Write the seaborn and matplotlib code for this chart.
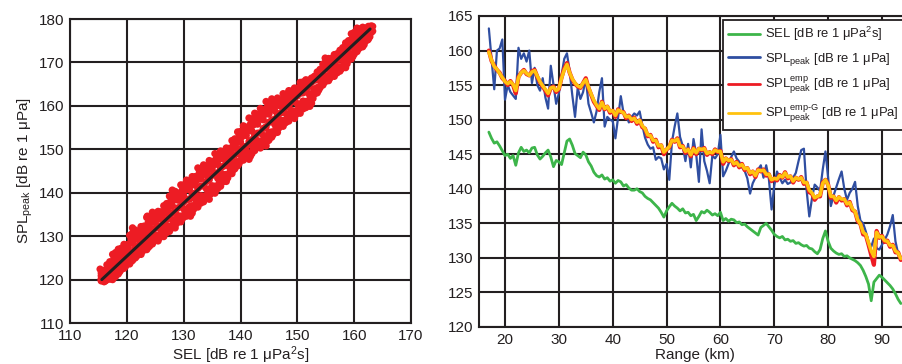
import numpy as np
import pandas as pd
import matplotlib
matplotlib.use("Agg")
import matplotlib.pyplot as plt
import seaborn as sns

# ---------------- data: left panel (scatter SEL vs SPL_peak) ----------------
scatter_sel = np.arange(115.5, 163.25, 0.5)       # sampled SEL columns (96)
scatter_sel_mid = np.arange(115.75, 163.5, 0.5)   # staggered SEL columns (96)
spl_hi = [121.5,122.1,123.4,124.1,125.8,126.2,127.0,127.2,128.1,128.0,
          130.2,130.7,131.4,131.0,132.2,132.3,134.3,134.3,135.5,134.9,
          135.7,135.6,137.0,137.5,139.2,139.5,140.3,139.9,141.8,141.8,
          142.9,142.7,143.7,143.7,145.7,145.4,146.4,146.2,147.4,147.2,
          149.0,148.8,149.6,149.4,150.3,150.2,152.0,152.4,154.0,154.1,
          155.4,155.1,157.2,157.0,158.3,158.1,159.4,159.1,161.0,160.6,
          161.6,161.2,161.8,161.4,162.8,162.7,163.5,163.4,164.1,164.1,
          165.4,165.5,166.0,165.9,166.4,166.8,167.8,168.4,169.6,170.2,
          170.9,170.9,171.8,172.0,172.8,173.4,174.5,175.0,176.6,176.9,
          177.9,177.7,178.1,177.9,178.3,178.4]
spl_uq = [121.2,121.7,123.0,123.6,125.0,125.3,126.3,126.5,127.4,127.3,
          129.3,129.6,130.4,130.1,131.5,131.6,133.1,133.1,134.6,134.1,
          134.9,134.8,136.2,136.6,138.1,138.3,139.4,139.1,140.6,140.6,
          141.9,141.7,142.8,142.8,144.6,144.3,145.4,145.2,146.6,146.4,
          147.9,147.7,148.8,148.6,149.5,149.5,151.1,151.4,152.9,152.9,
          154.5,154.2,155.8,155.6,157.2,157.0,158.2,158.0,159.8,159.4,
          160.4,160.1,161.0,160.7,161.9,161.8,162.8,162.8,163.5,163.6,
          164.8,164.9,165.5,165.5,166.2,166.6,167.5,168.0,169.2,169.7,
          170.5,170.5,171.4,171.7,172.5,173.0,174.1,174.6,175.9,176.1,
          177.3,177.2,177.7,177.6,178.1,178.3]
spl_mh = [120.9,121.2,122.5,123.0,124.1,124.3,125.5,125.7,126.6,126.6,
          128.3,128.5,129.4,129.2,130.7,130.8,131.9,131.9,133.6,133.2,
          134.1,134.0,135.4,135.6,137.0,137.0,138.5,138.3,139.4,139.3,
          140.9,140.7,141.8,141.8,143.4,143.2,144.3,144.1,145.7,145.6,
          146.7,146.5,147.9,147.8,148.7,148.7,150.2,150.4,151.7,151.7,
          153.5,153.2,154.4,154.2,156.0,155.8,157.0,156.8,158.5,158.1,
          159.2,158.9,160.2,160.0,160.9,160.9,162.1,162.1,162.9,163.0,
          164.1,164.3,165.0,165.1,165.9,166.3,167.1,167.5,168.8,169.2,
          170.0,170.1,171.0,171.3,172.1,172.5,173.7,174.1,175.1,175.3,
          176.6,176.6,177.2,177.3,177.9,178.2]
spl_c = [120.2,120.2,121.2,121.6,122.6,123.1,123.2,124.3,124.7,125.7,
         126.2,126.3,127.3,127.7,128.7,129.2,129.4,130.4,130.8,131.8,
         132.3,132.4,133.4,133.8,134.8,135.4,135.5,136.5,136.9,137.9,
         138.4,138.5,139.5,139.9,141.0,141.5,141.6,142.6,143.0,144.0,
         144.5,144.6,145.6,146.1,147.1,147.6,147.7,148.7,149.1,150.1,
         150.6,150.7,151.8,152.2,153.2,153.7,153.8,154.8,155.2,156.2,
         156.7,156.9,157.9,158.3,159.3,159.8,159.9,160.9,161.3,162.3,
         162.9,163.0,164.0,164.4,165.4,165.9,166.0,167.0,167.4,168.5,
         169.0,169.1,170.1,170.5,171.5,172.0,172.1,173.1,173.6,174.6,
         175.1,175.2,176.2,176.6,177.6,178.1]
spl_ml = [119.9,119.8,120.5,120.7,120.9,122.0,122.3,123.1,123.4,124.5,
          124.7,125.4,125.7,127.0,127.1,127.8,127.9,129.2,129.4,130.1,
          130.2,131.5,131.5,132.3,132.3,133.8,133.8,134.7,134.6,136.3,
          136.2,136.8,137.0,138.6,138.6,139.3,139.2,140.9,140.8,141.6,
          141.5,143.3,143.3,144.2,144.2,146.0,146.1,147.0,147.2,148.8,
          149.0,149.5,149.1,150.9,151.1,152.0,151.8,153.2,152.9,153.9,
          154.0,155.8,155.8,156.7,156.6,158.2,158.2,158.9,158.8,160.5,
          160.4,161.1,161.0,162.8,162.8,163.9,164.2,165.8,166.0,166.8,
          167.0,168.2,168.3,169.0,169.0,170.5,170.6,171.5,171.8,173.3,
          173.6,174.3,174.6,175.9,176.3,177.4]
spl_lq = [119.8,119.7,120.3,120.4,120.5,121.4,121.8,122.7,123.0,124.1,
          124.2,124.9,125.4,126.5,126.5,127.4,127.4,128.5,128.8,129.6,
          129.6,130.9,130.7,131.6,131.7,133.0,132.9,134.1,134.0,135.4,
          135.4,136.1,136.2,137.8,137.7,138.5,138.6,139.9,139.7,140.9,
          140.7,142.2,142.4,143.4,143.4,145.2,145.3,146.3,146.7,148.1,
          148.3,149.0,148.4,150.0,150.4,151.4,151.1,152.4,151.9,153.0,
          153.4,154.9,154.9,156.1,156.0,157.2,157.4,158.2,158.0,159.6,
          159.4,160.2,160.3,161.7,161.7,163.3,163.6,165.0,165.4,166.3,
          166.4,167.6,167.6,168.3,168.5,169.7,169.7,171.0,171.3,172.6,
          173.1,173.9,174.1,175.4,175.9,177.2]
spl_lo = [119.7,119.5,120.0,120.1,120.0,120.7,121.3,122.3,122.6,123.6,
          123.6,124.4,125.0,125.9,125.8,126.9,126.9,127.7,128.2,129.0,
          128.9,130.2,129.9,130.8,131.1,132.1,131.9,133.5,133.3,134.4,
          134.6,135.3,135.3,136.9,136.7,137.6,137.9,138.9,138.5,140.2,
          139.9,141.0,141.5,142.6,142.6,144.4,144.4,145.5,146.2,147.4,
          147.5,148.4,147.7,149.0,149.7,150.8,150.3,151.5,150.8,152.1,
          152.8,154.0,153.9,155.5,155.3,156.2,156.5,157.5,157.1,158.7,
          158.3,159.3,159.6,160.6,160.6,162.7,163.0,164.2,164.8,165.7,
          165.8,167.0,166.8,167.6,168.0,168.9,168.8,170.5,170.8,171.9,
          172.5,173.4,173.6,174.9,175.4,176.9]
outlier_sel = [115.3, 116.6, 121.0, 123.6, 124.7, 128.0, 131.2, 152.2, 154.9, 162.4]
outlier_spl = [122.4, 122.3, 131.9, 134.6, 134.9, 140.6, 134.6, 159.9, 171.0, 175.2]
fit_sel = [115.6, 162.8]
fit_spl = [120.0, 177.7]

# ---------------- data: right panel (levels vs range) ----------------
range_km = np.arange(17.0, 93.75, 0.5)  # 154 samples
sel_db = [148.2,147.3,146.6,146.8,146.2,145.5,144.8,145.0,144.4,144.8,
          143.4,145.2,146.0,145.4,145.6,145.2,145.9,146.0,144.9,144.3,
          144.7,145.2,145.6,144.6,143.2,144.1,143.9,143.5,145.2,146.9,
          147.2,146.3,145.1,144.8,144.5,145.3,144.9,143.9,143.3,142.4,
          141.9,141.7,142.0,141.4,141.6,141.1,141.3,140.8,141.2,141.0,
          140.4,140.6,140.1,139.8,139.8,140.0,139.6,139.4,138.9,138.6,
          138.4,138.0,137.6,137.2,136.6,135.9,136.8,137.4,137.9,137.5,
          137.2,136.8,137.1,136.5,136.6,136.1,136.3,135.4,136.0,136.7,
          136.5,136.9,136.6,136.2,136.4,136.1,136.6,135.4,135.7,135.3,
          135.6,135.5,135.1,135.2,134.8,134.9,134.5,134.2,133.9,133.6,
          133.3,134.4,134.7,135.0,134.5,134.0,133.4,133.1,132.9,133.1,
          132.6,132.7,132.4,132.5,132.1,132.2,131.9,131.7,131.8,131.4,
          131.3,130.9,130.6,131.2,132.8,133.9,132.4,131.4,131.0,130.7,
          130.5,130.6,130.2,130.3,130.0,129.8,129.6,129.3,128.9,128.2,
          127.3,126.2,123.8,126.5,127.0,127.5,127.2,126.8,126.4,126.0,
          125.5,124.8,124.0,123.4]
spl_peak = [163.2,158.8,154.4,160.0,160.3,161.6,152.9,155.0,154.0,153.5,
            153.0,160.4,158.8,159.6,158.4,160.0,155.3,157.5,155.0,154.2,
            156.0,153.2,151.6,157.8,155.0,152.3,153.8,156.4,158.8,159.6,
            157.0,153.5,150.4,154.6,153.0,154.0,156.0,152.3,151.0,149.6,
            151.2,154.0,156.0,149.0,150.4,150.0,149.8,147.3,150.3,153.4,
            151.0,150.6,149.6,150.4,150.9,150.6,151.2,149.2,147.4,146.4,
            145.8,146.0,144.2,144.6,144.4,142.8,143.6,141.3,146.8,149.0,
            150.9,147.5,146.2,144.0,146.5,143.1,147.2,145.0,141.0,148.6,
            144.0,142.6,140.8,144.8,144.4,145.0,147.8,141.8,142.6,143.6,
            144.6,145.4,144.4,143.9,143.1,142.6,141.5,139.3,140.8,141.6,
            142.8,143.4,141.6,143.4,141.4,137.0,140.5,142.5,141.6,140.8,
            141.3,140.7,140.9,141.6,142.3,144.0,145.6,145.8,139.8,136.0,
            138.6,140.6,140.2,139.7,142.8,145.4,141.6,137.5,139.0,140.2,
            141.4,142.5,140.0,138.4,139.4,140.0,141.0,137.5,135.4,135.0,
            133.8,132.2,131.6,132.8,131.4,131.2,131.9,132.6,133.4,134.6,
            136.2,132.4,130.6,130.0]
spl_emp = [160.0,158.5,157.8,157.2,156.8,156.0,155.6,155.0,155.6,155.0,
           153.8,156.2,156.8,157.2,156.6,156.4,157.0,157.2,156.2,155.4,
           154.8,154.2,153.5,154.6,154.8,154.0,154.4,156.1,157.4,158.2,
           156.8,155.8,155.2,154.8,154.6,155.3,156.0,154.6,153.6,152.6,
           152.0,151.4,152.6,151.5,151.9,151.0,151.3,150.4,151.5,151.1,
           151.1,150.2,150.6,149.8,150.3,149.4,149.9,148.9,148.7,147.6,
           147.8,146.8,147.1,146.0,146.3,145.0,145.7,146.0,147.1,146.8,
           147.3,146.0,146.2,145.2,145.7,144.7,145.9,145.0,145.8,145.6,
           145.9,144.9,145.3,145.0,145.7,145.3,145.5,143.6,144.4,144.0,
           144.3,143.4,143.9,143.1,143.6,142.7,143.0,142.1,142.5,141.7,
           142.8,142.5,142.8,141.9,142.1,141.1,141.5,141.2,142.0,141.6,
           142.4,141.5,141.8,140.9,141.6,141.3,141.7,140.7,140.9,139.5,
           139.3,138.4,138.9,138.9,140.9,141.3,140.6,138.7,138.9,138.0,
           138.8,138.3,138.5,137.6,138.1,136.9,136.7,135.3,134.9,133.4,
           133.3,131.9,130.4,129.0,133.9,132.9,133.2,132.3,132.5,131.6,
           131.9,130.8,130.8,129.7]
spl_emp_g = [159.8,158.6,157.7,157.3,156.7,156.1,155.5,155.2,155.5,155.1,
             154.2,156.1,156.8,157.1,156.7,156.4,156.9,157.1,156.3,155.5,
             154.9,154.4,153.8,154.6,154.7,154.2,154.5,156.0,157.2,158.0,
             156.8,155.9,155.3,154.9,154.7,155.3,155.8,154.7,153.7,152.8,
             152.1,151.6,152.5,151.6,151.9,151.2,151.3,150.6,151.4,151.2,
             151.0,150.4,150.5,150.0,150.2,149.6,149.9,149.1,148.7,147.8,
             147.7,147.0,147.0,146.2,146.3,145.3,145.7,146.1,147.0,146.9,
             147.2,146.2,146.1,145.4,145.7,144.9,145.8,145.2,145.8,145.7,
             145.8,145.1,145.3,145.2,145.6,145.4,145.4,143.9,144.4,144.1,
             144.2,143.6,143.8,143.3,143.5,142.9,143.0,142.3,142.5,141.9,
             142.7,142.6,142.7,142.1,142.1,141.3,141.5,141.4,141.9,141.7,
             142.3,141.7,141.8,141.1,141.6,141.4,141.6,140.9,140.9,139.8,
             139.4,138.7,138.9,139.1,140.8,141.3,140.5,138.9,138.9,138.3,
             138.8,138.5,138.5,137.8,138.0,137.1,136.7,135.5,134.9,133.7,
             133.4,132.2,131.0,130.2,133.7,133.0,133.1,132.5,132.4,131.8,
             131.8,131.0,130.7,129.9]

left_xticks = [110, 120, 130, 140, 150, 160, 170]
left_yticks = [110, 120, 130, 140, 150, 160, 170, 180]
right_xticks = [20, 30, 40, 50, 60, 70, 80, 90]
right_yticks = [120, 125, 130, 135, 140, 145, 150, 155, 160, 165]

series_labels = [
    "SEL [dB re 1 μPa$^{2}$s]",
    "SPL$_{\\mathrm{peak}}$ [dB re 1 μPa]",
    "SPL$^{\\mathrm{emp}}_{\\mathrm{peak}}$ [dB re 1 μPa]",
    "SPL$^{\\mathrm{emp\\text{-}G}}_{\\mathrm{peak}}$ [dB re 1 μPa]",
]

# ---------------- styling ----------------
sns.set_theme(style="white")
plt.rcParams["font.family"] = ["Liberation Sans", "DejaVu Sans"]
plt.rcParams["mathtext.fontset"] = "custom"
plt.rcParams["mathtext.rm"] = "Liberation Sans"
plt.rcParams["mathtext.it"] = "Liberation Sans:italic"
plt.rcParams["mathtext.bf"] = "Liberation Sans:bold"
plt.rcParams["mathtext.sf"] = "Liberation Sans"

INK = "#231f20"
RED = "#ed1c24"
GREEN = "#3db54a"
BLUE = "#2f4ea1"
YELLOW = "#ffc20e"

W, H = 902, 364
fig = plt.figure(figsize=(W / 100, H / 100), dpi=100)
ax1 = fig.add_axes([70 / W, (H - 323) / H, 341 / W, 304 / H])
ax2 = fig.add_axes([479 / W, (H - 327) / H, 431 / W, 311 / H])

# ---------------- left panel ----------------
main_bands = [spl_hi, spl_mh, spl_c, spl_ml, spl_lo]
mid_bands = [spl_uq, spl_lq]
df_sc = pd.concat(
    [pd.DataFrame({"SEL": scatter_sel, "SPL": b}) for b in main_bands]
    + [pd.DataFrame({"SEL": scatter_sel_mid, "SPL": b}) for b in mid_bands]
    + [pd.DataFrame({"SEL": outlier_sel, "SPL": outlier_spl})],
    ignore_index=True,
)
sns.scatterplot(data=df_sc, x="SEL", y="SPL", color=RED, s=28,
                edgecolor="none", linewidth=0, ax=ax1, legend=False, zorder=3)
sns.lineplot(x=fit_sel, y=fit_spl, color=INK, lw=2.2, ax=ax1, zorder=4)

ax1.set_xlim(110, 170)
ax1.set_ylim(110, 180)
ax1.set_xticks(left_xticks)
ax1.set_yticks(left_yticks)
ax1.set_xlabel("SEL [dB re 1 μPa$^{2}$s]", fontsize=11, color=INK, labelpad=1)
ax1.set_ylabel("SPL$_{\\mathrm{peak}}$ [dB re 1 μPa]", fontsize=11, color=INK, labelpad=3)

# ---------------- right panel ----------------
df_r = pd.DataFrame({"km": range_km, "sel": sel_db, "pk": spl_peak,
                     "emp": spl_emp, "empg": spl_emp_g})
sns.lineplot(data=df_r, x="km", y="sel", color=GREEN, lw=2.0, ax=ax2,
             sort=False, estimator=None, label=series_labels[0], zorder=3)
sns.lineplot(data=df_r, x="km", y="pk", color=BLUE, lw=1.6, ax=ax2,
             sort=False, estimator=None, label=series_labels[1], zorder=3)
sns.lineplot(data=df_r, x="km", y="emp", color=RED, lw=3.0, ax=ax2,
             sort=False, estimator=None, label=series_labels[2], zorder=4)
sns.lineplot(data=df_r, x="km", y="empg", color=YELLOW, lw=2.5, ax=ax2,
             sort=False, estimator=None, label=series_labels[3], zorder=5)

ax2.set_xlim(15.17, 95.2)
ax2.set_ylim(120, 165)
ax2.set_xticks(right_xticks)
ax2.set_yticks(right_yticks)
ax2.set_xlabel("Range (km)", fontsize=11, color=INK, labelpad=1)
ax2.set_ylabel("")

leg = ax2.legend(loc="upper left", bbox_to_anchor=(0.566, 0.987), frameon=True,
                 fancybox=False, edgecolor=INK, framealpha=1, fontsize=9.4,
                 handlelength=2.4, borderaxespad=0, labelspacing=0.55,
                 handletextpad=0.4, borderpad=0.4)
leg.get_frame().set_linewidth(1.3)
for line in leg.get_lines():
    line.set_linewidth(2.0)
for t in leg.get_texts():
    t.set_color(INK)

for ax in (ax1, ax2):
    ax.set_axisbelow(True)
    ax.grid(True, color=INK, lw=1.5)
    ax.tick_params(length=0, labelsize=11, colors=INK, pad=4)
    for sp in ax.spines.values():
        sp.set_color(INK)
        sp.set_linewidth(1.5)

fig.savefig("out.png", dpi=100)
